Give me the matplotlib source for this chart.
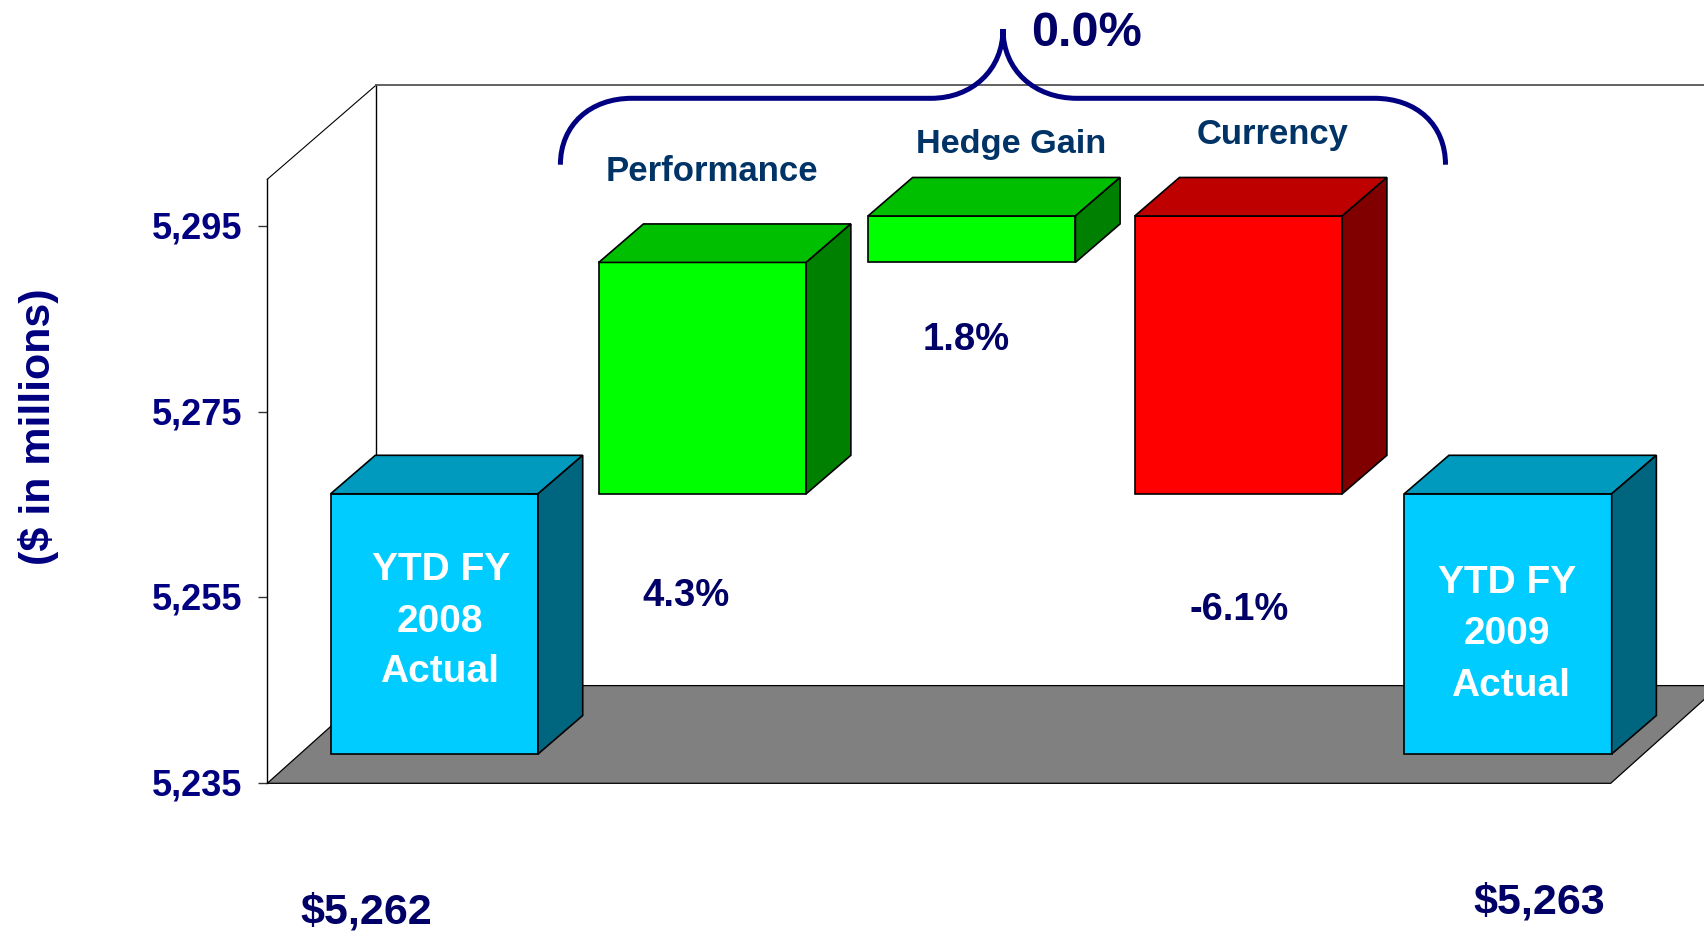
import matplotlib
matplotlib.use("Agg")
import matplotlib.pyplot as plt
from matplotlib.path import Path
from matplotlib.patches import PathPatch
from matplotlib.transforms import ScaledTranslation

W, H = 1704, 931

# ---- data ----
categories = ["YTD FY 2008 Actual", "Performance", "Hedge Gain", "Currency", "YTD FY 2009 Actual"]
bar_slots = [0, 0.998, 2, 2.993, 3.996]
bar_bottoms = [5235, 5263, 5287.9, 5263, 5235]
bar_tops = [5263, 5287.9, 5292.9, 5292.9, 5263]
bar_faces = ["#00CCFF", "#00FF00", "#00FF00", "#FF0000", "#00CCFF"]
bar_roofs = ["#009ABF", "#00BF00", "#00BF00", "#BF0000", "#009ABF"]
bar_sides = ["#006680", "#008000", "#008000", "#800000", "#006680"]
y_ticks = [5235, 5255, 5275, 5295]
y_tick_labels = ["5,235", "5,255", "5,275", "5,295"]
y_min, y_max = 5235, 5300

# ---- geometry of the pseudo-3D chart box ----
AX_L, AX_R, AX_B, AX_T = 267.3, 1610.7, 783.3, 179.3
DEPTH_X = 109 / ((AX_R - AX_L) / 5)                # category units for full depth
DEPTH_Y = 97.7 / ((AX_B - AX_T) / (y_max - y_min))  # value units for full depth
BAR_W = 0.772
BAR_D0, BAR_D1 = 0.30, 0.694
BAR_SKEW = 1.04                                     # bars recede a little further sideways
WALL_DROP = 0.36                                    # back wall top sits slightly lower

NAVY = "#000080"
DARK = "#000066"
LABEL = "#003366"
FONT = "Liberation Sans"

fig = plt.figure(figsize=(W / 100, H / 100), dpi=100, facecolor="white")
ax = fig.add_axes([AX_L / W, 1 - AX_B / H, (AX_R - AX_L) / W, (AX_B - AX_T) / H])
ax.set_xlim(0, len(categories))
ax.set_ylim(y_min, y_max)
ax.patch.set_visible(False)


def proj(x, y, d):
    return x + d * DEPTH_X, y + d * DEPTH_Y


def bar_back(x, y):
    return x + BAR_D0 * DEPTH_X + (BAR_D1 - BAR_D0) * DEPTH_X * BAR_SKEW, y + BAR_D1 * DEPTH_Y


def poly(points, color, z, lw=1.2, edge="black"):
    xs, ys = zip(*points)
    ax.fill(xs, ys, facecolor=color, edgecolor=edge, linewidth=lw,
            joinstyle="miter", clip_on=False, zorder=z)


def seg(a, b, color="black", lw=0.9, z=1):
    ax.plot([a[0], b[0]], [a[1], b[1]], color=color, lw=lw, clip_on=False, zorder=z,
            solid_capstyle="projecting")


# floor
n = len(categories)
poly([proj(0, y_min, 0), proj(n, y_min, 0), proj(n, y_min, 1), proj(0, y_min, 1)],
     "#808080", 1, lw=0.9)
# walls
wall_top = proj(0, y_max - WALL_DROP, 1)
seg(proj(0, y_max, 0), wall_top, lw=0.8)
seg(proj(0, y_min, 1), wall_top, lw=1.0)
seg(wall_top, (n + DEPTH_X, wall_top[1]), color="#555555", lw=1.3)

# bars
for i in range(n):
    x0 = bar_slots[i] + (1 - BAR_W) / 2
    x1 = x0 + BAR_W
    b, t = bar_bottoms[i], bar_tops[i]
    poly([proj(x0, b, BAR_D0), proj(x1, b, BAR_D0), proj(x1, t, BAR_D0), proj(x0, t, BAR_D0)],
         bar_faces[i], 3 + i)
    poly([proj(x0, t, BAR_D0), proj(x1, t, BAR_D0), bar_back(x1, t), bar_back(x0, t)],
         bar_roofs[i], 3 + i)
    poly([proj(x1, b, BAR_D0), bar_back(x1, b), bar_back(x1, t), proj(x1, t, BAR_D0)],
         bar_sides[i], 3 + i)

# axis
for s in ["top", "right", "bottom"]:
    ax.spines[s].set_visible(False)
ax.spines["left"].set_linewidth(1.0)
ax.set_xticks([])
ax.set_yticks(y_ticks)
ax.set_yticklabels(y_tick_labels, fontfamily=FONT, fontweight="bold", fontsize=26, color=NAVY)
ax.tick_params(axis="y", length=6.8, width=1.0, color="#333333", pad=11)
shift = ScaledTranslation(0, 1 / 100, fig.dpi_scale_trans)
for lab in ax.get_yticklabels():
    lab.set_transform(lab.get_transform() + shift)


def txt(x, y, s, size, color, **kw):
    fig.text(x / W, 1 - y / H, s, fontsize=size, color=color, fontfamily=FONT,
             fontweight="bold", ha=kw.pop("ha", "center"), va=kw.pop("va", "baseline"),
             zorder=20, **kw)


txt(39, 427, "($ in millions)", 31, NAVY, rotation=90, va="center")
txt(1086.6, 46, "0.0%", 35, DARK)
txt(712, 181, "Performance", 25, LABEL)
txt(1011, 152.7, "Hedge Gain", 24.7, LABEL)
txt(1273, 144, "Currency", 24.9, LABEL)
txt(966, 350, "1.8%", 27.5, DARK)
txt(685.7, 605.5, "4.3%", 27.5, DARK)
txt(1239, 620.5, "-6.1%", 27.4, DARK)
txt(366, 924, "$5,262", 31, DARK)
txt(1539.5, 914, "$5,263", 31, DARK)
for s, x, y in [("YTD FY", 441, 579.5), ("2008", 439.5, 632), ("Actual", 439.5, 681.7),
                ("YTD FY", 1507, 592.7), ("2009", 1507, 644.5), ("Actual", 1511, 696)]:
    txt(x, y, s, 28, "white")


# brace above the three drivers
def f(x, y):
    return x / W, 1 - y / H


verts = [f(560.4, 164.7), f(560.4, 125), f(590, 98.3), f(632, 98.3),
         f(931, 98.3),
         f(972, 98.3), f(1003, 70), f(1003, 29),
         f(1003, 70), f(1034, 98.3), f(1077, 98.3),
         f(1374.4, 98.3),
         f(1417, 98.3), f(1445.5, 125), f(1445.5, 164.7)]
codes = [Path.MOVETO, Path.CURVE4, Path.CURVE4, Path.CURVE4,
         Path.LINETO,
         Path.CURVE4, Path.CURVE4, Path.CURVE4,
         Path.CURVE4, Path.CURVE4, Path.CURVE4,
         Path.LINETO,
         Path.CURVE4, Path.CURVE4, Path.CURVE4]
fig.add_artist(PathPatch(Path(verts, codes), transform=fig.transFigure, facecolor="none",
                         edgecolor=NAVY, linewidth=3.6, zorder=15, capstyle="butt"))

fig.savefig("out.png", dpi=100)
